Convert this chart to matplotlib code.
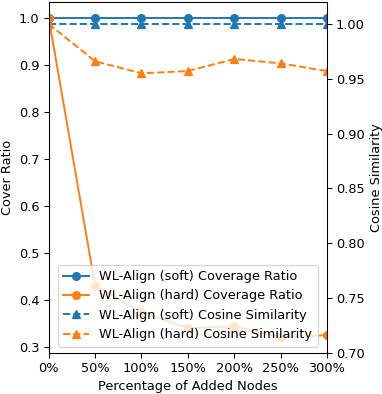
import matplotlib
matplotlib.use("Agg")
import matplotlib.pyplot as plt

# data
added = [0, 50, 100, 150, 200, 250, 300]
xtick_labels = ['0%', '50%', '100%', '150%', '200%', '250%', '300%']

soft_cover = [1.0, 1.0, 1.0, 1.0, 1.0, 1.0, 1.0]
hard_cover = [1.0, 0.431, 0.375, 0.341, 0.345, 0.322, 0.326]
soft_cos = [1.0, 1.0, 1.0, 1.0, 1.0, 1.0, 1.0]
hard_cos = [1.0, 0.966, 0.955, 0.957, 0.968, 0.964, 0.957]

dpi = 93
fig, ax1 = plt.subplots(figsize=(382 / dpi, 394 / dpi), dpi=dpi)
fig.subplots_adjust(left=0.1275, right=0.856, top=0.995, bottom=0.104)

l1, = ax1.plot(added, soft_cover, color='tab:blue', marker='o', linestyle='-',
               label='WL-Align (soft) Coverage Ratio')
l2, = ax1.plot(added, hard_cover, color='tab:orange', marker='o', linestyle='-',
               label='WL-Align (hard) Coverage Ratio')
ax1.set_ylabel('Cover Ratio')
ax1.set_xlabel('Percentage of Added Nodes')
ax1.set_xlim(0, 300)
ax1.set_xticks(added)
ax1.set_xticklabels(xtick_labels)

ax2 = ax1.twinx()
l3, = ax2.plot(added, soft_cos, color='tab:blue', marker='^', linestyle='--',
               label='WL-Align (soft) Cosine Similarity')
l4, = ax2.plot(added, hard_cos, color='tab:orange', marker='^', linestyle='--',
               label='WL-Align (hard) Cosine Similarity')
ax2.set_ylim(0.70, 1.02)
ax2.set_ylabel('Cosine Similarity')

lines = [l1, l2, l3, l4]
ax2.legend(lines, [l.get_label() for l in lines], loc='lower center')

plt.savefig('out.png', dpi=dpi)
